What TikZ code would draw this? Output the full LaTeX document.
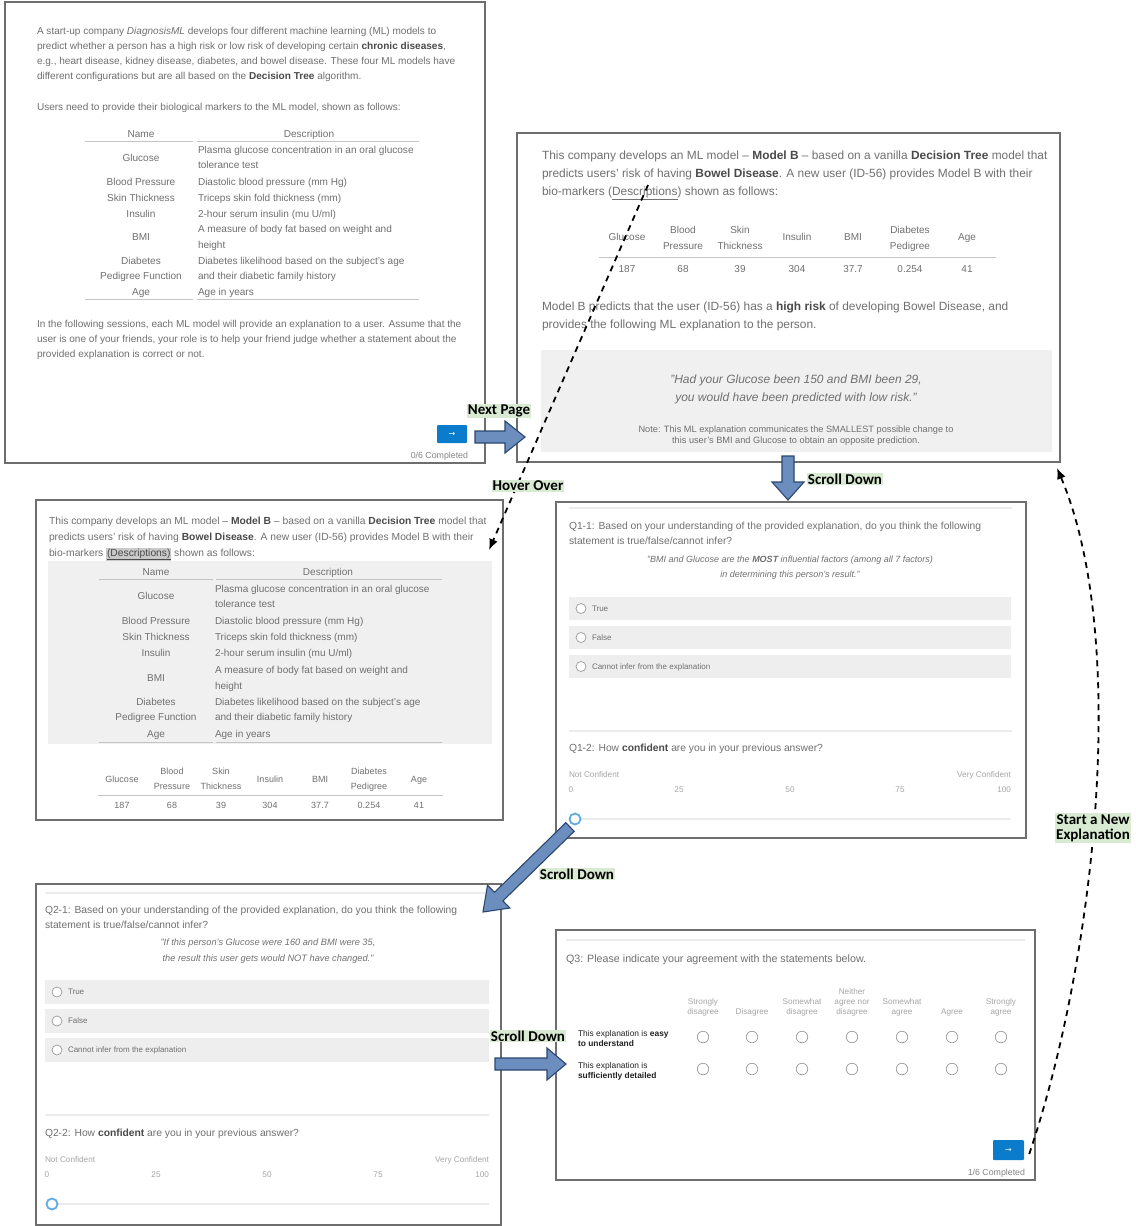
\documentclass[tikz,border=0pt]{standalone}
\usepackage{fontspec}
\setmainfont{Liberation Sans}
\newfontfamily\labfont{Carlito}
\newfontfamily\dvsfont{DejaVu Sans}
\usetikzlibrary{arrows.meta}
\definecolor{txt}{HTML}{707070}
\definecolor{txtb}{HTML}{4A4A4A}
\definecolor{pborder}{HTML}{6E6E6E}
\definecolor{rulec}{HTML}{C4C4C4}
\definecolor{sepc}{HTML}{EBEBEB}
\definecolor{optbg}{HTML}{EEEEEE}
\definecolor{boxbg}{HTML}{F0F0F0}
\definecolor{smallc}{HTML}{A6A6A6}
\definecolor{btnc}{HTML}{0B7BCB}
\definecolor{arrfill}{HTML}{6C8EBF}
\definecolor{arrdraw}{HTML}{2B4770}
\definecolor{labbg}{HTML}{D9EAD3}
\definecolor{hlbg}{HTML}{C9C9C9}
\definecolor{knobc}{HTML}{5FACE3}
\definecolor{radioc}{HTML}{9A9A9A}
\definecolor{rowc}{HTML}{222222}
\newcommand\fs[1]{\fontsize{#1}{#1}\selectfont}
\newcommand\bd[1]{{\color{txtb}\bfseries #1}}
\newcommand\hlword[1]{{\setlength\fboxsep{0.8pt}\colorbox{hlbg}{\color{txtb}\underline{#1}}}}
\newcounter{tn}
\newcommand\putt[4][]{\stepcounter{tn}\node[lt,#1] (t\arabic{tn}) at (#2,#3) {#4};}
\newcommand\shp[3][]{\stepcounter{tn}\node[#1] (s\arabic{tn}) at (#2,#3) {};}
\begin{document}
\begin{tikzpicture}[x=1pt,y=-1pt,
  lt/.style={anchor=base west,inner sep=0pt,outer sep=0pt,text=txt,font=\fs{10}},
  ac/.style={anchor=base}, ar/.style={anchor=base east},
  fa/.style={font=\fs{10.05}},
  fb/.style={font=\fs{11.9}},
  fbt/.style={font=\fs{10}},
  fbi/.style={font=\itshape\fs{12}},
  fbn/.style={font=\fs{9.2}},
  fc/.style={font=\fs{10.3}},
  fct/.style={font=\fs{10}},
  fc2/.style={font=\fs{9}},
  fq/.style={font=\fs{10.3}},
  fq3/.style={font=\fs{10.7}},
  fqi/.style={font=\itshape\fs{9}},
  fqj/.style={font=\itshape\fs{9.25}},
  fo/.style={font=\fs{8}},
  fs/.style={font=\fs{8.2},text=smallc},
  fr/.style={font=\fs{8.4},text=rowc},
  fdone/.style={font=\fs{8.8},text=txt!85},
  panel/.style={draw=pborder,line width=1.3pt,fill=white,inner sep=0pt,outer sep=0pt},
  rule/.style={draw=rulec,line width=0.8pt},
  sep/.style={draw=sepc,line width=1.2pt},
  radio/.style={circle,draw=radioc,line width=0.7pt,fill=white,minimum size=10pt,inner sep=0pt},
  radio2/.style={circle,draw=radioc,line width=0.7pt,fill=white,minimum size=11.5pt,inner sep=0pt},
  knob/.style={circle,draw=knobc,line width=1.8pt,fill=white,minimum size=11pt,inner sep=0pt},
  btn/.style={fill=btnc,text=white,inner sep=0pt,rounded corners=1pt,font=\dvsfont\fs{8}},
  blk/.style={fill=arrfill,draw=arrdraw,line width=1.1pt,line join=miter},
  lab/.style={fill=labbg,text=black,font=\labfont\bfseries\fontsize{15}{15}\selectfont,inner sep=1pt,align=center},
  dashconn/.style={draw=black,line width=1.8pt,dash pattern=on 6pt off 5pt,-{Latex[length=11pt,width=9pt]}}
]
\useasboundingbox (0,0) rectangle (1135,1226);
\fill[white] (0,0) rectangle (1135,1226);

% ---------------- panels ----------------
\node[panel,minimum width=480pt,minimum height=461pt] (p1) at (245,232.5) {};
\node[panel,minimum width=543pt,minimum height=329pt] (p2) at (788.5,297.5) {};
\node[panel,minimum width=467pt,minimum height=320pt] (p3) at (269.5,660) {};
\node[panel,minimum width=470pt,minimum height=336pt] (p4) at (791,670) {};
\node[panel,minimum width=465pt,minimum height=341pt] (p5) at (268.5,1054.5) {};
\node[panel,minimum width=479pt,minimum height=250pt] (p6) at (795.5,1055) {};

% ---------------- panel 1 ----------------
\putt[fa]{37}{34}{A start-up company \textit{DiagnosisML} develops four different machine learning (ML) models to}
\putt[fa]{37}{49}{predict whether a person has a high risk or low risk of developing certain \bd{chronic diseases},}
\putt[fa]{37}{64}{e.g., heart disease, kidney disease, diabetes, and bowel disease. These four ML models have}
\putt[fa]{37}{79}{different configurations but are all based on the \bd{Decision Tree} algorithm.}
\putt[fa]{37}{110}{Users need to provide their biological markers to the ML model, shown as follows:}
\putt[fa,ac]{141}{137}{Name}
\putt[fa,ac]{309}{137}{Description}
\draw[rule] (85,141) -- (193,141) (197,141) -- (419,141);
\putt[fa,ac]{141}{161}{Glucose}
\putt[fa]{198}{153}{Plasma glucose concentration in an oral glucose}
\putt[fa]{198}{168}{tolerance test}
\putt[fa,ac]{141}{185}{Blood Pressure}
\putt[fa]{198}{185}{Diastolic blood pressure (mm Hg)}
\putt[fa,ac]{141}{201}{Skin Thickness}
\putt[fa]{198}{201}{Triceps skin fold thickness (mm)}
\putt[fa,ac]{141}{217}{Insulin}
\putt[fa]{198}{217}{2-hour serum insulin (mu U/ml)}
\putt[fa,ac]{141}{240}{BMI}
\putt[fa]{198}{232}{A measure of body fat based on weight and}
\putt[fa]{198}{248}{height}
\putt[fa,ac]{141}{264}{Diabetes}
\putt[fa,ac]{141}{279}{Pedigree Function}
\putt[fa]{198}{264}{Diabetes likelihood based on the subject's age}
\putt[fa]{198}{279}{and their diabetic family history}
\putt[fa,ac]{141}{295}{Age}
\putt[fa]{198}{295}{Age in years}
\draw[rule] (85,299) -- (193,299) (197,299) -- (419,299);
\putt[fa]{37}{327}{In the following sessions, each ML model will provide an explanation to a user. Assume that the}
\putt[fa]{37}{342}{user is one of your friends, your role is to help your friend judge whether a statement about the}
\putt[fa]{37}{357}{provided explanation is correct or not.}
\node[btn,minimum width=30pt,minimum height=18pt] (b1) at (452,434) {→};
\putt[fdone,ar]{468}{458}{0/6 Completed}

% ---------------- panel 2 ----------------
\putt[fb]{542}{159}{This company develops an ML model – \bd{Model B} – based on a vanilla \bd{Decision Tree} model that}
\putt[fb]{542}{177}{predicts users' risk of having \bd{Bowel Disease}. A new user (ID-56) provides Model B with their}
\putt[fb]{542}{195}{bio-markers (\underline{Descriptions}) shown as follows:}
\putt[fbt,ac]{627}{240}{Glucose}
\putt[fbt,ac]{683}{233}{Blood}
\putt[fbt,ac]{683}{249}{Pressure}
\putt[fbt,ac]{740}{233}{Skin}
\putt[fbt,ac]{740}{249}{Thickness}
\putt[fbt,ac]{797}{240}{Insulin}
\putt[fbt,ac]{853}{240}{BMI}
\putt[fbt,ac]{910}{233}{Diabetes}
\putt[fbt,ac]{910}{249}{Pedigree}
\putt[fbt,ac]{967}{240}{Age}
\draw[rule] (599,257) -- (996,257);
\putt[fbt,ac]{627}{272}{187}
\putt[fbt,ac]{683}{272}{68}
\putt[fbt,ac]{740}{272}{39}
\putt[fbt,ac]{797}{272}{304}
\putt[fbt,ac]{853}{272}{37.7}
\putt[fbt,ac]{910}{272}{0.254}
\putt[fbt,ac]{967}{272}{41}
\putt[fb]{542}{310}{Model B predicts that the user (ID-56) has a \bd{high risk} of developing Bowel Disease, and}
\putt[fb]{542}{328}{provides the following ML explanation to the person.}
\fill[boxbg] (541,350) rectangle (1052,452);
\putt[fbi,ac]{796}{383}{"Had your Glucose been 150 and BMI been 29,}
\putt[fbi,ac]{796}{401}{you would have been predicted with low risk."}
\putt[fbn,ac]{796}{432}{Note: This ML explanation communicates the SMALLEST possible change to}
\putt[fbn,ac]{796}{443}{this user's BMI and Glucose to obtain an opposite prediction.}

% ---------------- panel 3 ----------------
\putt[fc]{49}{524}{This company develops an ML model – \bd{Model B} – based on a vanilla \bd{Decision Tree} model that}
\putt[fc]{49}{540}{predicts users' risk of having \bd{Bowel Disease}. A new user (ID-56) provides Model B with their}
\putt[fc]{49}{556}{bio-markers \hlword{(Descriptions)} shown as follows:}
\fill[boxbg] (48,561) rectangle (492,744);
\putt[fct,ac]{156}{575}{Name}
\putt[fct,ac]{328}{575}{Description}
\draw[rule] (99,579) -- (213,579) (216,579) -- (442,579);
\putt[fct,ac]{156}{599}{Glucose}
\putt[fct]{215}{592}{Plasma glucose concentration in an oral glucose}
\putt[fct]{215}{607}{tolerance test}
\putt[fct,ac]{156}{624}{Blood Pressure}
\putt[fct]{215}{624}{Diastolic blood pressure (mm Hg)}
\putt[fct,ac]{156}{640}{Skin Thickness}
\putt[fct]{215}{640}{Triceps skin fold thickness (mm)}
\putt[fct,ac]{156}{656}{Insulin}
\putt[fct]{215}{656}{2-hour serum insulin (mu U/ml)}
\putt[fct,ac]{156}{681}{BMI}
\putt[fct]{215}{673}{A measure of body fat based on weight and}
\putt[fct]{215}{689}{height}
\putt[fct,ac]{156}{705}{Diabetes}
\putt[fct,ac]{156}{720}{Pedigree Function}
\putt[fct]{215}{705}{Diabetes likelihood based on the subject's age}
\putt[fct]{215}{720}{and their diabetic family history}
\putt[fct,ac]{156}{737}{Age}
\putt[fct]{215}{737}{Age in years}
\draw[rule] (99,742) -- (213,742) (216,742) -- (442,742);
\putt[fc2,ac]{122}{782}{Glucose}
\putt[fc2,ac]{172}{774}{Blood}
\putt[fc2,ac]{172}{789}{Pressure}
\putt[fc2,ac]{221}{774}{Skin}
\putt[fc2,ac]{221}{789}{Thickness}
\putt[fc2,ac]{270}{782}{Insulin}
\putt[fc2,ac]{320}{782}{BMI}
\putt[fc2,ac]{369}{774}{Diabetes}
\putt[fc2,ac]{369}{789}{Pedigree}
\putt[fc2,ac]{419}{782}{Age}
\draw[rule] (98,795) -- (443,795);
\putt[fc2,ac]{122}{808}{187}
\putt[fc2,ac]{172}{808}{68}
\putt[fc2,ac]{221}{808}{39}
\putt[fc2,ac]{270}{808}{304}
\putt[fc2,ac]{320}{808}{37.7}
\putt[fc2,ac]{369}{808}{0.254}
\putt[fc2,ac]{419}{808}{41}

% ---------------- panel 4 ----------------
\draw[sep] (569,508) -- (1012,508);
\putt[fq]{569}{529}{Q1-1: Based on your understanding of the provided explanation, do you think the following}
\putt[fq]{569}{544}{statement is true/false/cannot infer?}
\putt[fqi,ac]{790}{562}{"BMI and Glucose are the \textbf{MOST} influential factors (among all 7 factors)}
\putt[fqi,ac]{790}{577}{in determining this person's result."}
\fill[optbg] (569,597) rectangle (1011,620);
\fill[optbg] (569,626) rectangle (1011,649);
\fill[optbg] (569,655) rectangle (1011,678);
\shp[radio]{581}{608.5}
\shp[radio]{581}{637.5}
\shp[radio]{581}{666.5}
\putt[fo]{592}{611.3}{True}
\putt[fo]{592}{640.3}{False}
\putt[fo]{592}{669.3}{Cannot infer from the explanation}
\draw[sep] (569,731) -- (1012,731);
\putt[fq]{569}{751}{Q1-2: How \bd{confident} are you in your previous answer?}
\putt[fs]{569}{777}{Not Confident}
\putt[fs,ar]{1011}{777}{Very Confident}
\putt[fs,ac]{571}{792}{0}
\putt[fs,ac]{679}{792}{25}
\putt[fs,ac]{790}{792}{50}
\putt[fs,ac]{900}{792}{75}
\putt[fs,ar]{1011}{792}{100}
\draw[sepc,line width=2pt] (575,819) -- (1011,819);
\shp[knob]{575}{819}

% ---------------- panel 5 ----------------
\draw[sep] (45,893) -- (489,893);
\putt[fq]{45}{913}{Q2-1: Based on your understanding of the provided explanation, do you think the following}
\putt[fq]{45}{928}{statement is true/false/cannot infer?}
\putt[fqj,ac]{268}{945}{"If this person's Glucose were 160 and BMI were 35,}
\putt[fqj,ac]{268}{961}{the result this user gets would NOT have changed."}
\fill[optbg] (45,980) rectangle (489,1004);
\fill[optbg] (45,1009) rectangle (489,1033);
\fill[optbg] (45,1038) rectangle (489,1062);
\shp[radio]{57}{992}
\shp[radio]{57}{1021}
\shp[radio]{57}{1050}
\putt[fo]{68}{994.8}{True}
\putt[fo]{68}{1023.8}{False}
\putt[fo]{68}{1052.8}{Cannot infer from the explanation}
\draw[sep] (45,1115) -- (489,1115);
\putt[fq]{45}{1136}{Q2-2: How \bd{confident} are you in your previous answer?}
\putt[fs]{45}{1162}{Not Confident}
\putt[fs,ar]{489}{1162}{Very Confident}
\putt[fs,ac]{47}{1177}{0}
\putt[fs,ac]{156}{1177}{25}
\putt[fs,ac]{267}{1177}{50}
\putt[fs,ac]{378}{1177}{75}
\putt[fs,ar]{489}{1177}{100}
\draw[sepc,line width=2pt] (52,1204) -- (489,1204);
\shp[knob]{52}{1204}

% ---------------- panel 6 ----------------
\draw[sep] (566,940) -- (1025,940);
\putt[fq3]{566}{962}{Q3: Please indicate your agreement with the statements below.}
\putt[fs,ac]{703}{1004}{Strongly}
\putt[fs,ac]{703}{1014}{disagree}
\putt[fs,ac]{752}{1014}{Disagree}
\putt[fs,ac]{802}{1004}{Somewhat}
\putt[fs,ac]{802}{1014}{disagree}
\putt[fs,ac]{852}{994}{Neither}
\putt[fs,ac]{852}{1004}{agree nor}
\putt[fs,ac]{852}{1014}{disagree}
\putt[fs,ac]{902}{1004}{Somewhat}
\putt[fs,ac]{902}{1014}{agree}
\putt[fs,ac]{952}{1014}{Agree}
\putt[fs,ac]{1001}{1004}{Strongly}
\putt[fs,ac]{1001}{1014}{agree}
\putt[fr]{578}{1036}{This explanation is \textbf{easy}}
\putt[fr]{578}{1046}{\textbf{to understand}}
\putt[fr]{578}{1068}{This explanation is}
\putt[fr]{578}{1078}{\textbf{sufficiently detailed}}
\foreach \cx in {703,752,802,852,902,952,1001}{
  \shp[radio2]{\cx}{1037}
  \shp[radio2]{\cx}{1069}
}
\node[btn,minimum width=31pt,minimum height=20pt] (b6) at (1008.5,1150) {→};
\putt[fdone,ar]{1025}{1175}{1/6 Completed}

% ---------------- block arrows ----------------
\draw[blk] (475,431) -- (505,431) -- (505,421) -- (525,437) -- (505,453) -- (505,443) -- (475,443) -- cycle;
\draw[blk] (782,456) -- (794,456) -- (794,482) -- (804,482) -- (788,500) -- (772,482) -- (782,482) -- cycle;
\draw[blk] (565.8,822.7) -- (574.2,831.3) -- (502.9,900.9) -- (509.9,908.0) -- (483,912) -- (487.5,885.2) -- (494.5,892.3) -- cycle;
\draw[blk] (495,1058) -- (547,1058) -- (547,1048) -- (566,1064) -- (547,1080) -- (547,1070) -- (495,1070) -- cycle;

% ---------------- dashed connectors ----------------
\coordinate (hovstart) at (648,185);
\coordinate (hovend) at (489,550);
\draw[dashconn] (hovstart) -- (hovend);
\draw[dashconn] ([shift={(5,4)}]b6.east) .. controls (1095,960) and (1130,640) .. ([shift={(-3,6)}]p2.south east);

% ---------------- labels ----------------
\node[lab] (lnext) at (499,411) {Next Page};
\node[lab] (lhover) at (528,486) {Hover Over};
\node[lab] (lscroll1) at (845,479) {Scroll Down};
\node[lab] (lscroll2) at (577,874) {Scroll Down};
\node[lab] (lscroll3) at (528,1036) {Scroll Down};
\node[lab] (lnew) at (1093,828) {Start a New\\Explanation};
\end{tikzpicture}
\end{document}
